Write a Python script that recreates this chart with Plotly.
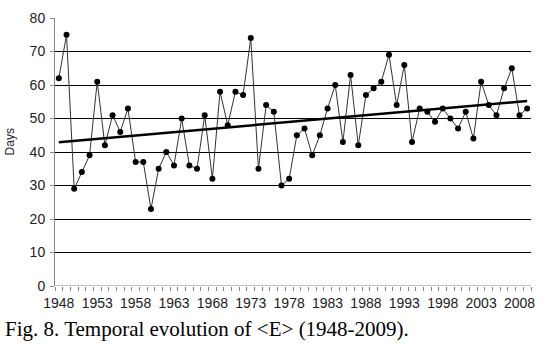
import numpy as np
import plotly.graph_objects as go

years = list(range(1948, 2010))
days = [62, 75, 29, 34, 39, 61, 42, 51, 46, 53,
        37, 37, 23, 35, 40, 36, 50, 36, 35, 51,
        32, 58, 48, 58, 57, 74, 35, 54, 52, 30,
        32, 45, 47, 39, 45, 53, 60, 43, 63, 42,
        57, 59, 61, 69, 54, 66, 43, 53, 52, 49,
        53, 50, 47, 52, 44, 61, 54, 51, 59, 65,
        51, 53]
x_tick_labels = [str(y) for y in range(1948, 2009, 5)]
y_ticks = list(range(0, 81, 10))

slope, intercept = np.polyfit(years, days, 1)
trend = [slope * y + intercept for y in years]

fig = go.Figure()
fig.add_trace(go.Scatter(
    x=years, y=days, mode="lines+markers",
    line=dict(color="#333333", width=1),
    marker=dict(color="black", size=6),
    showlegend=False))
fig.add_trace(go.Scatter(
    x=years, y=trend, mode="lines",
    line=dict(color="black", width=2.5),
    showlegend=False))

fig.update_layout(
    width=545, height=347,
    margin=dict(l=55, r=10, t=18, b=61),
    paper_bgcolor="white", plot_bgcolor="white",
    font=dict(family="Liberation Sans, Arial, sans-serif", size=14, color="#222222"),
    xaxis=dict(
        range=[1947.5, 2009.5],
        tickmode="array",
        tickvals=[int(t) for t in x_tick_labels],
        ticktext=x_tick_labels,
        ticks="",
        ticklabelstandoff=7,
        showgrid=False, zeroline=False,
        showline=False,
        minor=dict(tickmode="linear", tick0=1947.5, dtick=1,
                   ticks="outside", ticklen=4, tickcolor="#888888",
                   showgrid=False),
        tickfont=dict(size=14),
    ),
    yaxis=dict(
        range=[0, 80],
        tickvals=y_ticks,
        ticks="outside", ticklen=4, tickcolor="#888888",
        ticklabelstandoff=2,
        showgrid=True, gridcolor="black", gridwidth=1,
        zeroline=False,
        showline=True, linecolor="#888888", linewidth=1,
        tickfont=dict(size=14),
    ),
    shapes=[dict(type="line", xref="paper", yref="y", x0=0, x1=1, y0=0, y1=0,
                 line=dict(color="#888888", width=1))],
    annotations=[
        dict(text="Days", xref="paper", yref="paper",
             x=-45/480, y=(286 - 142) / 268, xanchor="center", yanchor="middle",
             textangle=-90, showarrow=False,
             font=dict(size=12, color="#222222")),
        dict(
            text="Fig. 8. Temporal evolution of &lt;E&gt; (1948-2009).",
            xref="paper", yref="paper", x=-52/480, y=-(329 - 286) / 268,
            xanchor="left", yanchor="middle", showarrow=False,
            font=dict(family="Liberation Serif, Times New Roman, serif", size=21, color="black")),
    ],
)

fig.write_html("out.html", config={"displayModeBar": False},
               post_script="document.body.style.margin='0';")
